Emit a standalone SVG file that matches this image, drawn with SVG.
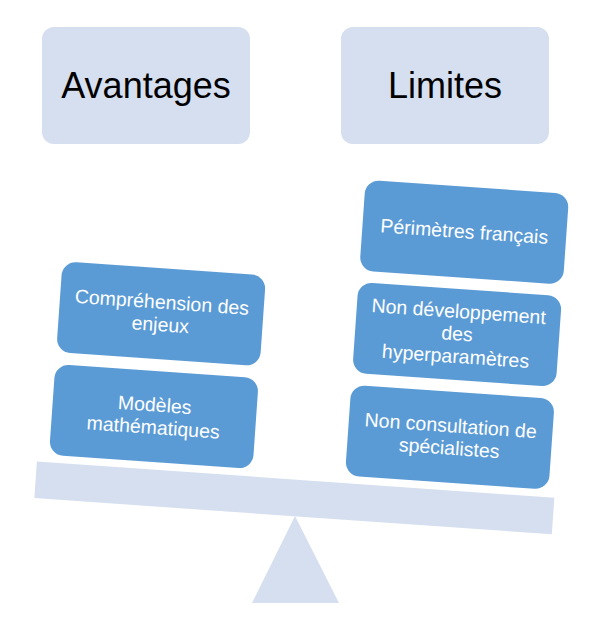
<svg xmlns="http://www.w3.org/2000/svg" width="590" height="627" viewBox="0 0 590 627">
  <style>
    .light { fill: #D5DFEF; }
    .head { fill: #D5DFEF; }
    .blue { fill: #5B9BD5; }
    .ht { font-family: "Liberation Sans", Arial, sans-serif; font-size: 36px; fill: #000000; text-anchor: middle; }
    .bt { font-family: "Liberation Sans", Arial, sans-serif; font-size: 19.5px; fill: #FFFFFF; text-anchor: middle; }
  </style>
  <rect width="590" height="627" fill="#FFFFFF"/>

  <g id="header-avantages">
    <rect class="head" x="42" y="27" width="208" height="117" rx="12"/>
    <text class="ht" x="146" y="98">Avantages</text>
  </g>
  <g id="header-limites">
    <rect class="head" x="341" y="27" width="208" height="117" rx="12"/>
    <text class="ht" x="445" y="98">Limites</text>
  </g>

  <g id="fulcrum">
    <polygon class="light" points="295,516 339,603 252,603"/>
  </g>

  <g id="connectors"></g>

  <g id="balance" transform="rotate(4 294.35 497.9)">
    <g id="beam">
      <rect class="light" x="35" y="479.6" width="518.7" height="36.6"/>
    </g>

    <g id="node-comprehension">
      <rect class="blue" x="46.6" y="278" width="204" height="91" rx="14"/>
      <text class="bt" x="148.6" y="318.5">Compréhension des</text>
      <text class="bt" x="148.6" y="341">enjeux</text>
    </g>
    <g id="node-modeles">
      <rect class="blue" x="46.6" y="381" width="204" height="91" rx="14"/>
      <text class="bt" x="148.6" y="421.5">Modèles</text>
      <text class="bt" x="148.6" y="444">mathématiques</text>
    </g>

    <g id="node-perimetres">
      <rect class="blue" x="343.3" y="175.5" width="204" height="91" rx="14"/>
      <text class="bt" x="445.3" y="227">Périmètres français</text>
    </g>
    <g id="node-developpement">
      <rect class="blue" x="343.3" y="278" width="204" height="91" rx="14"/>
      <text class="bt" x="445.3" y="307">Non développement</text>
      <text class="bt" x="445.3" y="329.5">des</text>
      <text class="bt" x="445.3" y="352">hyperparamètres</text>
    </g>
    <g id="node-consultation">
      <rect class="blue" x="343.3" y="381" width="204" height="91" rx="14"/>
      <text class="bt" x="445.3" y="421.5">Non consultation de</text>
      <text class="bt" x="445.3" y="444">spécialistes</text>
    </g>
  </g>
</svg>
